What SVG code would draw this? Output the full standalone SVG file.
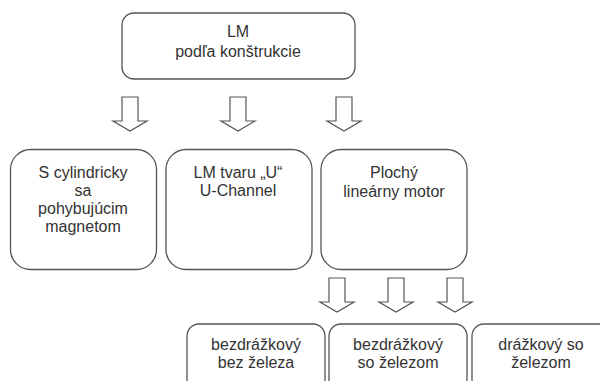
<svg xmlns="http://www.w3.org/2000/svg" width="600" height="381" viewBox="0 0 600 381">
<style>
.box{fill:#fff;stroke:#555;stroke-width:1.3}
.t{font-family:"Liberation Sans",Arial,sans-serif;font-size:16px;fill:#333;text-anchor:middle}
.arr{fill:#fff;stroke:#555;stroke-width:1.2;stroke-linejoin:miter}
</style>
<defs>
<path id="a" d="M-8,0 H8 V24 H17 L0,34 L-17,24 H-8 Z"/>
</defs>
<rect width="600" height="381" fill="#fff"/>
<g id="connectors">
<use href="#a" class="arr" x="130" y="97"/>
<use href="#a" class="arr" x="238" y="97"/>
<use href="#a" class="arr" x="344" y="97"/>
<use href="#a" class="arr" x="337" y="278"/>
<use href="#a" class="arr" x="396" y="278"/>
<use href="#a" class="arr" x="455" y="278"/>
</g>
<g id="root">
<rect class="box" x="122" y="13" width="233" height="66" rx="12"/>
<text class="t" x="238" y="37">LM</text>
<text class="t" x="238" y="57">podľa konštrukcie</text>
</g>
<g id="n1">
<rect class="box" x="10.5" y="149.5" width="146" height="120" rx="20"/>
<text class="t" x="83" y="178">S cylindricky</text>
<text class="t" x="83" y="196">sa</text>
<text class="t" x="83" y="214">pohybujúcim</text>
<text class="t" x="83" y="232">magnetom</text>
</g>
<g id="n2">
<rect class="box" x="166" y="149.5" width="146" height="120" rx="20"/>
<text class="t" x="238" y="178">LM tvaru „U“</text>
<text class="t" x="238" y="196">U-Channel</text>
</g>
<g id="n3">
<rect class="box" x="321" y="149.5" width="146" height="120" rx="20"/>
<text class="t" x="394" y="178">Plochý</text>
<text class="t" x="394" y="197">lineárny motor</text>
</g>
<g id="n4">
<rect class="box" x="187" y="324" width="138" height="80" rx="12"/>
<text class="t" x="256" y="350">bezdrážkový</text>
<text class="t" x="256" y="368">bez železa</text>
</g>
<g id="n5">
<rect class="box" x="329" y="324" width="138" height="80" rx="12"/>
<text class="t" x="398" y="350">bezdrážkový</text>
<text class="t" x="398" y="368">so železom</text>
</g>
<g id="n6">
<rect class="box" x="472" y="324" width="150" height="80" rx="12"/>
<text class="t" x="541" y="350">drážkový so</text>
<text class="t" x="541" y="368">železom</text>
</g>
</svg>
